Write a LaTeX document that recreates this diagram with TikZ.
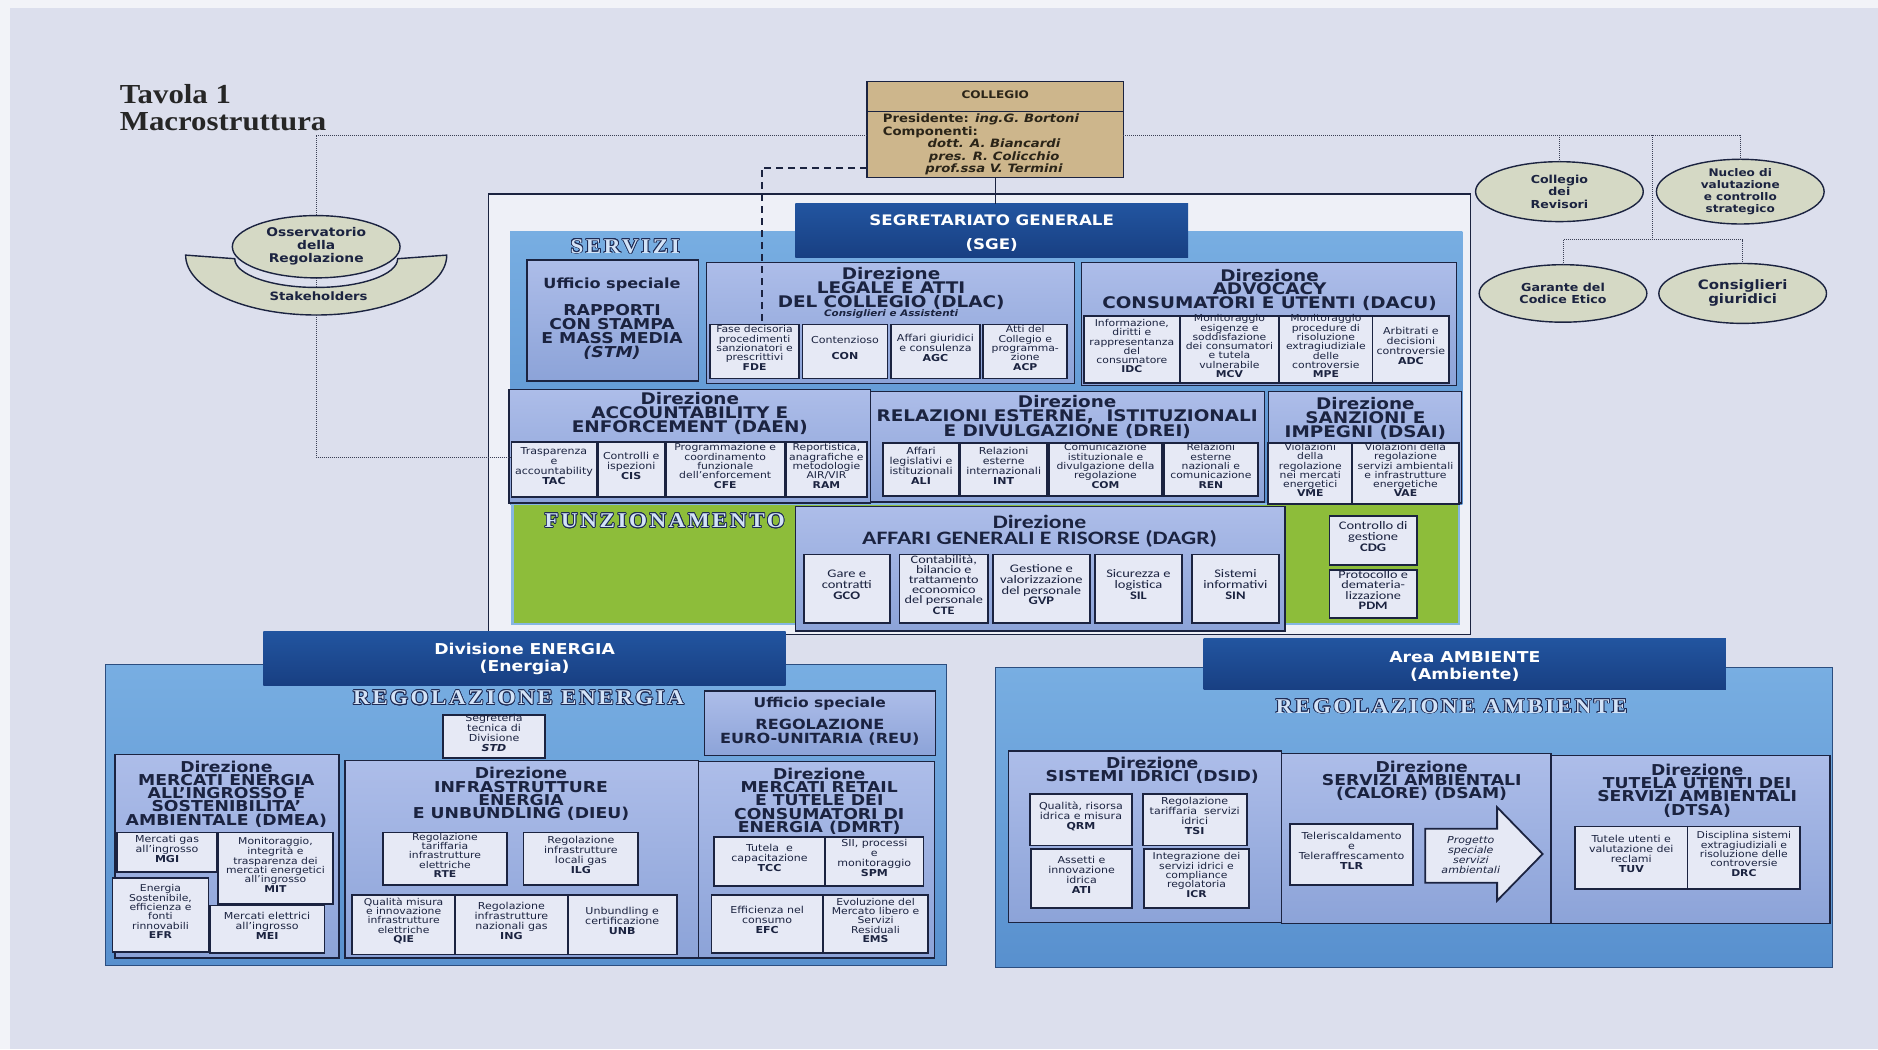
\documentclass[tikz,border=0pt]{standalone}
\usepackage{fontspec}
\setmainfont{DejaVu Sans}[FakeStretch=1.15]
\newfontfamily\calfont{Carlito}[FakeStretch=1.25]
\newfontfamily\decofont{Liberation Serif}[FakeStretch=1.1,LetterSpace=12]
\newfontfamily\ttlfont{Liberation Serif}[FakeStretch=1.12]
\usepackage{contour}
\contourlength{0.8pt}
\usetikzlibrary{fit,shapes.geometric,calc}

\definecolor{bgc}{HTML}{DCDFED}
\definecolor{edgec}{HTML}{F2F3F8}
\definecolor{ink}{HTML}{1B2340}
\definecolor{inkb}{HTML}{2A2418}
\definecolor{tanc}{HTML}{CDB68C}
\definecolor{ovalfill}{HTML}{D5D9C5}
\definecolor{dotc}{HTML}{3A3F55}
\definecolor{framefill}{HTML}{EEF0F7}
\definecolor{pantop}{HTML}{78AEE2}
\definecolor{panbot}{HTML}{5890CE}
\definecolor{panline}{HTML}{2C4E80}
\definecolor{dirtop}{HTML}{ADBDE9}
\definecolor{dirbot}{HTML}{8CA3D8}
\definecolor{subfill}{HTML}{E6E9F5}
\definecolor{hdrtop}{HTML}{2255A0}
\definecolor{hdrbot}{HTML}{183F82}
\definecolor{greenc}{HTML}{8DBD3A}
\definecolor{greenedge}{HTML}{86B6E2}
\definecolor{lblfill}{HTML}{D3E3F7}
\definecolor{lblline}{HTML}{1E2B55}

\newcommand\subf{\fontsize{9.6}{10}\selectfont}
\newcommand\subtf{\fontsize{9.4}{9.3}\selectfont}
\newcommand\calf{\calfont\fontsize{11.6}{10.9}\selectfont}
\newcommand\caltf{\calfont\fontsize{11.4}{10.2}\selectfont}
\newcommand\dtitf{\bfseries\fontsize{16}{13.8}\selectfont}
\newcommand\etitf{\bfseries\fontsize{15}{13.2}\selectfont}
\newcommand\hdrf{\bfseries\fontsize{15}{16.8}\selectfont}
\newcommand\collf{\bfseries\fontsize{11.5}{12.3}\selectfont}
\newcommand\ac[1]{\textbf{#1}}

\tikzset{
  tight/.style={inner sep=0pt, outer sep=0pt},
  panel/.style={tight, top color=pantop, bottom color=panbot, draw=panline, line width=0.8pt},
  dirbox/.style={tight, top color=dirtop, bottom color=dirbot, draw=ink, line width=1.4pt},
  subbox/.style={tight, fill=subfill, draw=ink, line width=1.8pt, align=center, text=ink, font=\subf},
  calbox/.style={subbox, font=\calf},
  hdr/.style={tight, top color=hdrtop, bottom color=hdrbot, draw=none},
  hdrtext/.style={inner sep=0pt, text=white, align=center, font=\hdrf},
  dtitle/.style={align=center, text=ink, font=\dtitf, inner sep=0pt},
  etitle/.style={dtitle, font=\etitf},
  oval/.style={ellipse, tight, fill=ovalfill, draw=ink, line width=1.4pt},
  ovaltext/.style={inner sep=0pt, align=center, text=ink},
  dotconn/.style={draw=dotc, line width=0.9pt, dash pattern=on 1pt off 1pt},
  solidconn/.style={draw=ink, line width=1.3pt},
  dashconn/.style={draw=ink, line width=2.2pt, dash pattern=on 7pt off 5pt},
  lbl/.style={inner sep=0pt, text=lblfill, font=\decofont\bfseries\fontsize{21}{21}\selectfont},
}
\newcommand\mkunit[6]{\node[subbox,fit={(#2,#3)(#4,#5)}] (#1) {#6};}
\newcommand\mktight[6]{\node[subbox,font=\subtf,fit={(#2,#3)(#4,#5)}] (#1) {#6};}
\newcommand\mkcal[6]{\node[calbox,fit={(#2,#3)(#4,#5)}] (#1) {#6};}
\newcommand\mkcaltight[6]{\node[calbox,font=\caltf,fit={(#2,#3)(#4,#5)}] (#1) {#6};}
\newcommand\mkdir[5]{\node[dirbox,fit={(#2,#3)(#4,#5)}] (#1) {};}

\begin{document}
\begin{tikzpicture}[x=1.1977pt,y=-1.1977pt]
\useasboundingbox (0,0) rectangle (1568,876);
% page
\fill[bgc] (0,0) rectangle (1568,876);
\fill[edgec] (0,0) rectangle (1568,7);
\fill[edgec] (0,0) rectangle (8,876);

% title
\node[anchor=base west, inner sep=0, text=black!85, font=\ttlfont\bfseries\fontsize{27.5}{27.5}\selectfont] (tavola) at (100,86) {Tavola 1};
\node[anchor=base west, inner sep=0, text=black!85, font=\ttlfont\bfseries\fontsize{27.5}{27.5}\selectfont] (macro) at (100,109) {Macrostruttura};

% Collegio
\node[tight, fill=tanc, draw=ink, line width=1.5pt, fit={(724,68)(938,148)}] (coll) {};
\draw[ink, line width=1pt] (724,93) -- (938,93);
\node[inner sep=0, text=inkb, font=\bfseries\fontsize{10.5}{12}\selectfont] (colltit) at (831,79) {COLLEGIO};
\node[anchor=west, inner sep=0, text=inkb, font=\collf] (collpres) at (737,100) {Presidente: \textit{ing.G. Bortoni}};
\node[anchor=west, inner sep=0, text=inkb, font=\collf] (collcomp) at (737,110.5) {Componenti:};
\node[align=center, inner sep=0, text=inkb, font=\collf] (collmem) at (830,131) {\textit{dott. A. Biancardi}\\\textit{pres. R. Colicchio}\\\textit{prof.ssa V. Termini}};

% side bodies (right)
\node[oval, minimum width=167.7pt, minimum height=59.9pt] (rev) at (1302,160) {};
\node[ovaltext, font=\bfseries\fontsize{11}{12.5}\selectfont] (revtxt) at (rev) {Collegio\\dei\\Revisori};
\node[oval, minimum width=167.7pt, minimum height=64.7pt] (nuc) at (1453,160) {};
\node[ovaltext, font=\bfseries\fontsize{10.5}{11.8}\selectfont] (nuctxt) at (nuc) {Nucleo di\\valutazione\\e controllo\\strategico};
\node[oval, minimum width=167.7pt, minimum height=57.5pt] (gar) at (1305,245) {};
\node[ovaltext, font=\bfseries\fontsize{11}{12.5}\selectfont] (gartxt) at (gar) {Garante del\\Codice Etico};
\node[oval, minimum width=167.7pt, minimum height=59.9pt] (cons) at (1455,245) {};
\node[ovaltext, font=\bfseries\fontsize{13}{14}\selectfont] (constxt) at (cons) {Consiglieri\\giuridici};

% Osservatorio and stakeholders
\filldraw[fill=ovalfill, draw=ink, line width=1.4pt]
  (155,213) -- (196,216) arc[start angle=180, end angle=0, x radius=68, y radius=24]
  -- (373,213) arc[start angle=0, end angle=180, x radius=109, y radius=50] -- cycle;
\node[oval, minimum width=167.7pt, minimum height=62.3pt] (oss) at (264,206) {};
\node[ovaltext, font=\bfseries\fontsize{12}{13}\selectfont] (osstxt) at (oss) {Osservatorio\\della\\Regolazione};
\node[inner sep=0, text=ink, font=\bfseries\fontsize{11.5}{12}\selectfont] (stake) at (266,247) {Stakeholders};
\coordinate (mtr) at (264,113);
\coordinate (innerbot) at (264,240);
\coordinate (bowlbot) at (264,263);
\coordinate (lnk) at (300,382);

% SGE frame
\node[tight, fill=framefill, draw=ink, line width=1.4pt, fit={(408,162)(1228,530)}] (sgeframe) {};
\node[panel, fit={(426,193)(1221,421)}, draw=none] (servizi) {};
\node[lbl] (servlbl) at (522,206) {\contour{lblline}{SERVIZI}};
\node[tight, fill=greenc, draw=greenedge, line width=2.5pt, fit={(428,421)(1218,521)}] (funz) {};
\node[lbl] (funzlbl) at (555,435) {\contour{lblline}{FUNZIONAMENTO}};
\node[hdr, fit={(664,170)(992,215)}] (sge) {};
\node[hdrtext, font=\bfseries\fontsize{14.5}{24}\selectfont] (sgetxt) at (828,195) {SEGRETARIATO GENERALE\\(SGE)};

% STM
\mkdir{stm}{440}{217}{583}{318}
\node[dtitle, font=\bfseries\fontsize{14}{14}\selectfont] (stmt1) at (511,238) {Ufficio speciale};
\node[dtitle, font=\bfseries\fontsize{15}{14}\selectfont] (stmt2) at (511,277) {RAPPORTI\\CON STAMPA\\E MASS MEDIA\\\textit{(STM)}};

% DLAC
\mkdir{dlac}{590}{219}{897}{320}
\node[dtitle] (dlact) at (744,241) {Direzione\\LEGALE E ATTI\\DEL COLLEGIO (DLAC)};
\node[inner sep=0, text=ink, font=\bfseries\itshape\fontsize{9}{10}\selectfont] (dlacsub) at (744,262) {Consiglieri e Assistenti};
\mktight{FDE}{593}{271}{667}{316}{Fase decisoria\\procedimenti\\sanzionatori e\\prescrittivi\\\ac{FDE}}
\mkunit{CON}{670}{271}{741}{316}{Contenzioso\\[6pt]\ac{CON}}
\mkunit{AGC}{744}{271}{818}{316}{Affari giuridici\\e consulenza\\\ac{AGC}\\[6pt]}
\mktight{ACP}{821}{271}{891}{316}{Atti del\\Collegio e\\programma-\\zione\\\ac{ACP}}

% DACU
\mkdir{dacu}{903}{219}{1216}{322}
\node[dtitle] (dacut) at (1060,242) {Direzione\\ADVOCACY\\CONSUMATORI E UTENTI (DACU)};
\mktight{IDC}{905}{264}{985}{320}{Informazione,\\diritti e\\rappresentanza\\del\\consumatore\\\ac{IDC}}
\mktight{MCV}{985}{264}{1068}{320}{Monitoraggio\\esigenze e\\soddisfazione\\dei consumatori\\e tutela\\vulnerabile\\\ac{MCV}}
\mktight{MPE}{1068}{264}{1146}{320}{Monitoraggio\\procedure di\\risoluzione\\extragiudiziale\\delle\\controversie\\\ac{MPE}}
\mkunit{ADC}{1146}{264}{1210}{320}{Arbitrati e\\decisioni\\controversie\\\ac{ADC}}

% DAEN
\mkdir{daen}{425}{325}{727}{420}
\node[dtitle] (daent) at (576,345) {Direzione\\ACCOUNTABILITY E\\ENFORCEMENT (DAEN)};
\mkunit{TAC}{427}{369}{498}{415}{Trasparenza\\e\\accountability\\\ac{TAC}}
\mkunit{CIS}{499}{369}{555}{415}{Controlli e\\ispezioni\\\ac{CIS}\\[4pt]}
\mktight{CFE}{556}{369}{655}{415}{Programmazione e\\coordinamento\\funzionale\\dell’enforcement\\\ac{CFE}}
\mktight{RAM}{656}{369}{724}{415}{Reportistica,\\anagrafiche e\\metodologie\\AIR/VIR\\\ac{RAM}}

% DREI
\mkdir{drei}{727}{327}{1056}{419}
\node[dtitle] (dreit) at (891,348) {Direzione\\RELAZIONI ESTERNE,\ \ ISTITUZIONALI\\E DIVULGAZIONE (DREI)};
\mkunit{ALI}{737}{370}{801}{414}{Affari\\legislativi e\\istituzionali\\\ac{ALI}}
\mkunit{INT}{802}{370}{874}{414}{Relazioni\\esterne\\internazionali\\\ac{INT}}
\mktight{COM}{876}{370}{970}{414}{Comunicazione\\istituzionale e\\divulgazione della\\regolazione\\\ac{COM}}
\mktight{REN}{972}{370}{1050}{414}{Relazioni\\esterne\\nazionali e\\comunicazione\\\ac{REN}}

% DSAI
\mkdir{dsai}{1059}{327}{1220}{420}
\node[dtitle] (dsait) at (1140,349.5) {Direzione\\SANZIONI E\\IMPEGNI (DSAI)};
\mktight{VME}{1059}{370}{1129}{421}{Violazioni\\della\\regolazione\\nei mercati\\energetici\\\ac{VME}}
\mktight{VAE}{1129}{370}{1218}{421}{Violazioni della\\regolazione\\servizi ambientali\\e infrastrutture\\energetiche\\\ac{VAE}}

% DAGR
\mkdir{dagr}{664}{423}{1073}{527}
\node[dtitle, font=\calfont\bfseries\fontsize{19}{19}\selectfont] (dagrt1) at (868,436) {Direzione};
\node[dtitle, font=\calfont\bfseries\fontsize{19}{19}\selectfont] (dagrt2) at (868,450) {AFFARI GENERALI E RISORSE (DAGR)};
\mkcal{GCO}{671}{463}{743}{520}{Gare e\\contratti\\\ac{GCO}}
\mkcaltight{CTE}{751}{463}{825}{520}{Contabilità,\\bilancio e\\trattamento\\economico\\del personale\\\ac{CTE}}
\mkcal{GVP}{829}{463}{910}{520}{Gestione e\\valorizzazione\\del personale\\\ac{GVP}}
\mkcal{SIL}{914}{463}{987}{520}{Sicurezza e\\logistica\\\ac{SIL}}
\mkcal{SIN}{995}{463}{1068}{520}{Sistemi\\informativi\\\ac{SIN}}
\mkcal{CDG}{1110}{431}{1183}{472}{Controllo di\\gestione\\\ac{CDG}}
\mkcaltight{PDM}{1110}{476}{1183}{516}{Protocollo e\\demateria-\\lizzazione\\\ac{PDM}}

% connectors around the Collegio
\draw[dotconn] (coll.west |- mtr) -- (mtr) -- (mtr |- oss.north);
\draw[dotconn] (oss.south) -- (innerbot);
\draw[dotconn] (bowlbot) -- (bowlbot |- lnk) -- (TAC.west |- lnk);
\coordinate (rj1) at (1302,113);
\coordinate (rj2) at (1380,113);
\coordinate (rj3) at (1453,113);
\coordinate (rmid) at (1380,200);
\coordinate (rl) at (1305,200);
\coordinate (rr) at (1455,200);
\draw[dotconn] (coll.east |- mtr) -- (rj3) -- (nuc.north);
\draw[dotconn] (rj1) -- (rev.north);
\draw[dotconn] (rj2) -- (rmid);
\draw[dotconn] (gar.north) -- (rl) -- (rr) -- (cons.north);
\draw[solidconn] (coll.south) -- (coll.south |- sge.north);
\coordinate (dk1) at (724,140);
\coordinate (dk2) at (636,140);
\draw[dashconn] (dk1) -- (dk2) -- (dk2 |- FDE.north);

% Divisione ENERGIA
\node[panel, fit={(88,555)(790,806)}] (enpanel) {};
\node[hdr, fit={(220,527)(656,572)}] (enhdr) {};
\node[hdrtext] (enhdrtxt) at (438,550) {Divisione ENERGIA\\(Energia)};
\node[lbl] (enlbl) at (433,583) {\contour{lblline}{REGOLAZIONE ENERGIA}};
\mkunit{STD}{370}{597}{455}{633}{Segreteria\\tecnica di\\Divisione\\\textbf{\textit{STD}}}
\mkdir{reu}{588}{577}{781}{631}
\node[dtitle, font=\bfseries\fontsize{13.5}{14}\selectfont] (reut1) at (684.5,587.5) {Ufficio speciale};
\node[dtitle, font=\bfseries\fontsize{14}{13.4}\selectfont] (reut2) at (684.5,611.5) {REGOLAZIONE\\EURO-UNITARIA (REU)};

\mkdir{dmea}{96}{630}{283}{800}
\node[etitle] (dmeat) at (189,663) {Direzione\\MERCATI ENERGIA\\ALL’INGROSSO E\\SOSTENIBILITA’\\AMBIENTALE (DMEA)};
\mkunit{MGI}{98}{695}{181}{728}{Mercati gas\\all’ingrosso\\\ac{MGI}}
\mktight{MIT}{182}{695}{278}{755}{Monitoraggio,\\integrità e\\trasparenza dei\\mercati energetici\\all’ingrosso\\\ac{MIT}}
\mktight{EFR}{94}{733}{174}{795}{Energia\\Sostenibile,\\efficienza e\\fonti\\rinnovabili\\\ac{EFR}}
\mkunit{MEI}{175}{756}{271}{796}{Mercati elettrici\\all’ingrosso\\\ac{MEI}}

\mkdir{dieu}{288}{635}{583}{800}
\node[etitle] (dieut) at (435,663) {Direzione\\INFRASTRUTTURE\\ENERGIA\\E UNBUNDLING (DIEU)};
\mktight{RTE}{320}{695}{423}{739}{Regolazione\\tariffaria\\infrastrutture\\elettriche\\\ac{RTE}}
\mkunit{ILG}{437}{695}{533}{739}{Regolazione\\infrastrutture\\locali gas\\\ac{ILG}}
\mktight{QIE}{294}{747}{380}{797}{Qualità misura\\e innovazione\\infrastrutture\\elettriche\\\ac{QIE}}
\mkunit{ING}{380}{747}{474}{797}{Regolazione\\infrastrutture\\nazionali gas\\\ac{ING}}
\mkunit{UNB}{474}{747}{565}{797}{Unbundling e\\certificazione\\\ac{UNB}}

\mkdir{dmrt}{583}{636}{780}{800}
\node[etitle] (dmrtt) at (684,669) {Direzione\\MERCATI RETAIL\\E TUTELE DEI\\CONSUMATORI DI\\ENERGIA (DMRT)};
\mkunit{TCC}{596}{699}{689}{740}{Tutela~ e\\capacitazione\\\ac{TCC}}
\mkunit{SPM}{689}{699}{771}{740}{SII, processi\\e\\monitoraggio\\\ac{SPM}}
\mkunit{EFC}{594}{747}{687}{796}{Efficienza nel\\consumo\\\ac{EFC}}
\mktight{EMS}{687}{747}{775}{796}{Evoluzione del\\Mercato libero e\\Servizi\\Residuali\\\ac{EMS}}

% Area AMBIENTE
\node[panel, fit={(831,557)(1530,808)}] (ampanel) {};
\node[hdr, fit={(1005,533)(1441,576)}] (amhdr) {};
\node[hdrtext] (amhdrtxt) at (1223,556.5) {Area AMBIENTE\\(Ambiente)};
\node[lbl] (amlbl) at (1212,590) {\contour{lblline}{REGOLAZIONE AMBIENTE}};

\mkdir{dsid}{842}{627}{1070}{770}
\node[etitle] (dsidt) at (962,643) {Direzione\\SISTEMI IDRICI (DSID)};
\mkunit{QRM}{860}{663}{945}{706}{Qualità, risorsa\\idrica e misura\\\ac{QRM}}
\mkunit{TSI}{954}{663}{1041}{706}{Regolazione\\tariffaria~ servizi\\idrici\\\ac{TSI}}
\mkunit{ATI}{861}{709}{945}{758}{Assetti e\\innovazione\\idrica\\\ac{ATI}}
\mktight{ICR}{955}{709}{1043}{758}{Integrazione dei\\servizi idrici e\\compliance\\regolatoria\\\ac{ICR}}

\mkdir{dsam}{1070}{629}{1295}{771}
\node[etitle] (dsamt) at (1187,652) {Direzione\\SERVIZI AMBIENTALI\\(CALORE) (DSAM)};
\mkunit{TLR}{1077}{688}{1180}{739}{Teleriscaldamento\\e\\Teleraffrescamento\\\ac{TLR}}
\filldraw[fill=subfill, draw=ink, line width=1.8pt]
  (1190,692) -- (1250,692) -- (1250,674) -- (1288,713) -- (1250,752) -- (1250,737) -- (1190,737) -- cycle;
\node[inner sep=0, align=center, text=ink, font=\itshape\subf] (prog) at (1228,714) {Progetto\\speciale\\servizi\\ambientali};

\mkdir{dtsa}{1295}{631}{1528}{771}
\node[etitle] (dtsat) at (1417,660) {Direzione\\TUTELA UTENTI DEI\\SERVIZI AMBIENTALI\\(DTSA)};
\mkunit{TUV}{1315}{690}{1409}{742}{Tutele utenti e\\valutazione dei\\reclami\\\ac{TUV}}
\mktight{DRC}{1409}{690}{1503}{742}{Disciplina sistemi\\extragiudiziali e\\risoluzione delle\\controversie\\\ac{DRC}}
\end{tikzpicture}
\end{document}
